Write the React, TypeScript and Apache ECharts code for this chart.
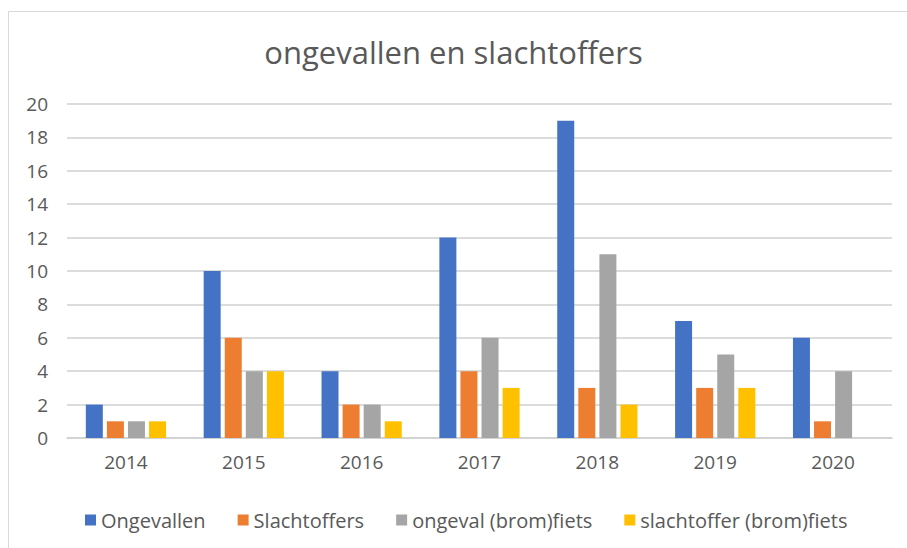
import React, { useEffect, useRef } from "react";
import * as echarts from "echarts";

const categories = ["2014", "2015", "2016", "2017", "2018", "2019", "2020"];
const ongevallen = [2, 10, 4, 12, 19, 7, 6];
const slachtoffers = [1, 6, 2, 4, 3, 3, 1];
const ongevalFiets = [1, 4, 2, 6, 11, 5, 4];
const slachtofferFiets = [1, 4, 1, 3, 2, 3, 0];
const seriesNames = ["Ongevallen", "Slachtoffers", "ongeval (brom)fiets", "slachtoffer (brom)fiets"];
const seriesColors = ["#4472C4", "#ED7D31", "#A5A5A5", "#FFC000"];
const titleText = "ongevallen en slachtoffers";

export default function App() {
  const ref = useRef<HTMLDivElement>(null);
  useEffect(() => {
    if (!ref.current) return;
    const chart = echarts.init(ref.current, null, { renderer: "svg" });
    const seriesData = [ongevallen, slachtoffers, ongevalFiets, slachtofferFiets];
    const font = "'Open Sans', 'Noto Sans', sans-serif";
    chart.setOption({
      animation: false,
      backgroundColor: "#ffffff",
      textStyle: { fontFamily: font },
      title: {
        text: titleText,
        left: "center",
        top: 31,
        textStyle: { fontFamily: font, fontSize: 31, fontWeight: "normal", color: "#595959" },
      },
      graphic: [
        {
          type: "rect",
          shape: { x: 8.5, y: 11.5, width: 1000, height: 1000 },
          style: { fill: "none", stroke: "#D9D9D9", lineWidth: 1 },
          silent: true,
        },
      ],
      legend: {
        left: 80,
        top: 505,
        itemWidth: 11,
        itemHeight: 11,
        itemGap: 32,
        icon: "rect",
        textStyle: { fontFamily: font, fontSize: 20, color: "#595959" },
        data: seriesNames,
      },
      grid: { left: 67, right: 15, top: 104, bottom: 110, containLabel: false },
      xAxis: {
        type: "category",
        data: categories,
        axisLine: { show: true, lineStyle: { color: "#D0D0D0", width: 1.5 } },
        axisTick: { show: false },
        axisLabel: { color: "#595959", fontSize: 19, margin: 14, fontFamily: font },
      },
      yAxis: {
        type: "value",
        min: 0,
        max: 20,
        interval: 2,
        axisLine: { show: false },
        axisTick: { show: false },
        axisLabel: { color: "#595959", fontSize: 19, margin: 19, fontFamily: font },
        splitLine: { lineStyle: { color: "#D0D0D0", width: 1.5 } },
      },
      series: seriesNames.map((name, i) => ({
        name,
        type: "bar",
        data: seriesData[i],
        barWidth: 17,
        barGap: "24%",
        itemStyle: { color: seriesColors[i] },
      })),
    });
    return () => chart.dispose();
  }, []);
  return (
    <div
      ref={ref}
      style={{ position: "fixed", left: 0, top: 0, width: 907, height: 548 }}
    />
  );
}
